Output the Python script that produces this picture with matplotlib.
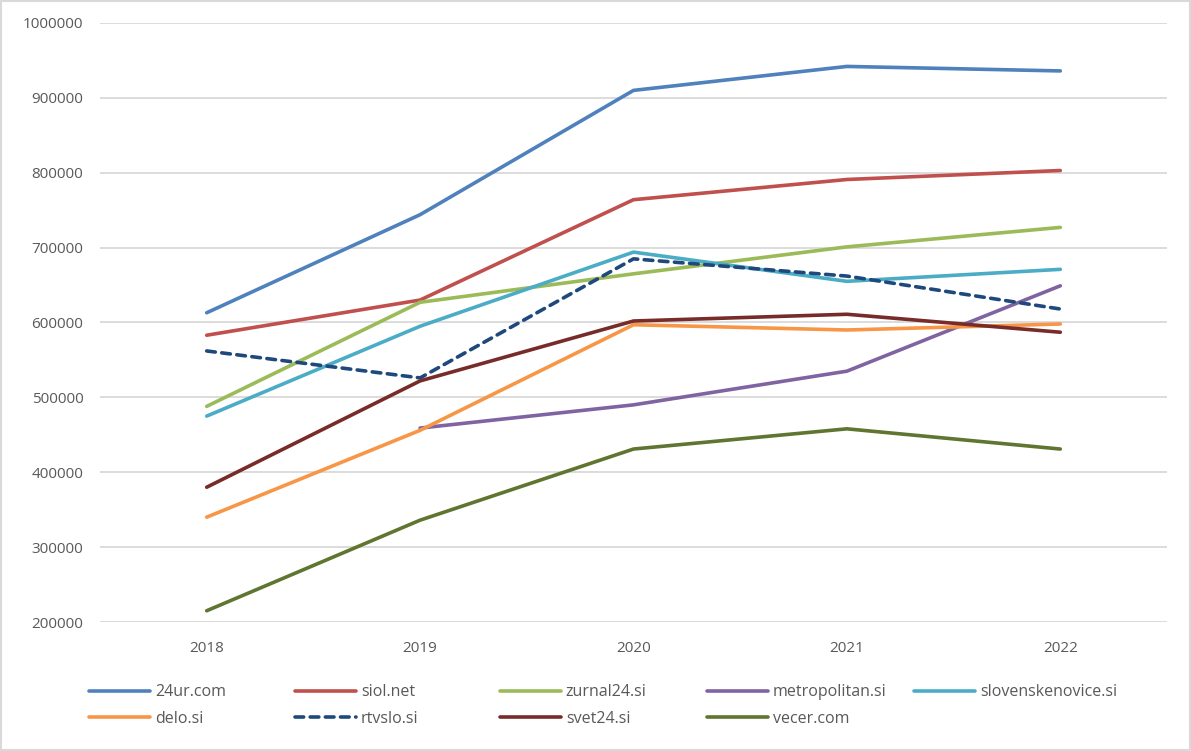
import numpy as np
import matplotlib
matplotlib.use('Agg')
from matplotlib import pyplot as plt
from matplotlib.ticker import FuncFormatter

# podatki
years = ['2018', '2019', '2020', '2021', '2022']
ur24 = [613000, 744000, 910000, 942000, 936000]
siol = [583000, 630000, 764000, 791000, 803000]
zurnal24 = [488000, 627000, 665000, 701000, 727000]
metropolitan = [np.nan, 459000, 490000, 535000, 649000]
slovenskenovice = [475000, 595000, 694000, 655000, 671000]
delo = [340000, 456000, 597000, 590000, 598000]
rtvslo = [562000, 526000, 685000, 662000, 618000]
svet24 = [380000, 522000, 602000, 611000, 587000]
vecer = [215000, 336000, 431000, 458000, 431000]

names = ['24ur.com', 'siol.net', 'zurnal24.si', 'metropolitan.si', 'slovenskenovice.si',
         'delo.si', 'rtvslo.si', 'svet24.si', 'vecer.com']
series = [ur24, siol, zurnal24, metropolitan, slovenskenovice, delo, rtvslo, svet24, vecer]
colors = ['#4F81BD', '#C0504D', '#9BBB59', '#8064A2', '#4BACC6',
          '#F79646', '#1F497D', '#772C2A', '#5F7530']

plt.rcParams['font.family'] = ['Open Sans', 'DejaVu Sans']

fig = plt.figure(figsize=(11.91, 7.51), dpi=100)
ax = fig.add_axes([100/1191, 1 - 622/751, 1067/1191, 599/751])

x = np.arange(len(years))
lines = []
for name, vals, c in zip(names, series, colors):
    ls = (0, (2.4, 1.8)) if name == 'rtvslo.si' else '-'
    ln, = ax.plot(x, vals, color=c, lw=2.6, ls=ls, label=name, solid_capstyle='round',
                  dash_capstyle='round')
    lines.append(ln)

ax.set_xlim(-0.5, len(years) - 0.5)
ax.set_ylim(200000, 1000000)
ax.set_yticks(np.arange(200000, 1000001, 100000))
ax.yaxis.set_major_formatter(FuncFormatter(lambda v, p: '%d' % v))
ax.set_xticks(x)
ax.set_xticklabels(years)
ax.yaxis.grid(True, color='#D9D9D9', lw=1.3)
ax.set_axisbelow(True)
for s in ax.spines.values():
    s.set_visible(False)
ax.tick_params(length=0, colors='#595959', labelsize=11)
ax.tick_params(axis='x', pad=14)
ax.tick_params(axis='y', pad=12)

# legenda: 5 stolpcev z enakim razmikom
col_x = [75, 281, 486, 693, 900]
for i, cx in enumerate(col_x):
    idx = [j for j in (i, i + 5) if j < len(lines)]
    leg = fig.legend([lines[j] for j in idx], [names[j] for j in idx],
                     loc='upper left', bbox_to_anchor=(cx/1191, 1 - 670/751),
                     frameon=False, fontsize=11.5, handlelength=3.8, handletextpad=0.3,
                     labelspacing=0.65)
    for t in leg.get_texts():
        t.set_color('#595959')

# okvir
fig.patches.append(plt.Rectangle((0.001, 0.001), 0.998, 0.998, transform=fig.transFigure,
                                 fill=False, edgecolor='#D9D9D9', lw=1.5))

plt.savefig('out.png', dpi=100)
